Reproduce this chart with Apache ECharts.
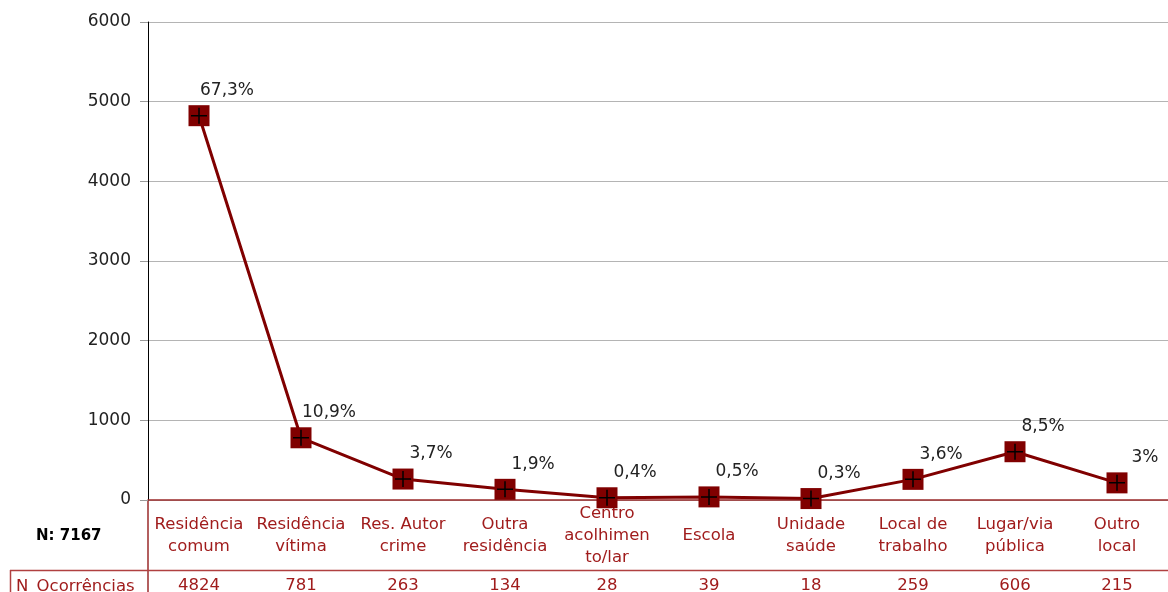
<!DOCTYPE html>
<html>
<head>
<meta charset="utf-8">
<script src="https://cdn.jsdelivr.net/npm/echarts@6/dist/echarts.min.js"></script>
<style>
html,body{margin:0;padding:0;background:#fff;}
#c{width:1168px;height:592px;}
</style>
</head>
<body>
<div id="c"></div>
<script>
const categories = ["Residência\ncomum", "Residência\nvítima", "Res. Autor\ncrime", "Outra\nresidência", "Centro\nacolhimen\nto/lar", "Escola", "Unidade\nsaúde", "Local de\ntrabalho", "Lugar/via\npública", "Outro\nlocal"];
const counts = [4824, 781, 263, 134, 28, 39, 18, 259, 606, 215];
const percents = ["67,3%", "10,9%", "3,7%", "1,9%", "0,4%", "0,5%", "0,3%", "3,6%", "8,5%", "3%"];
const yTicks = [0, 1000, 2000, 3000, 4000, 5000, 6000];
const totalLabel = "N: 7167";
const rowLabel = "N_Ocorrências";

const RED = '#800000';
const TXT_RED = '#a01c1c';
const FONT = 'DejaVu Sans';

const chart = echarts.init(document.getElementById('c'));
chart.setOption({
  animation: false,
  grid: { left: 148, right: 0, top: 22, bottom: 92, containLabel: false, outerBoundsMode: 'none' },
  xAxis: [{
    type: 'category',
    data: categories,
    boundaryGap: true,
    axisLine: { show: true, lineStyle: { color: '#9a2a2a', width: 1.5 } },
    axisTick: { show: false },
    axisLabel: {
      interval: 0, color: TXT_RED, fontFamily: FONT, fontSize: 16.5,
      lineHeight: 22, verticalAlign: 'middle', margin: 36
    }
  }, {
    type: 'category',
    position: 'bottom',
    data: counts.map(String),
    boundaryGap: true,
    axisLine: { show: false },
    axisTick: { show: false },
    axisLabel: {
      interval: 0, color: TXT_RED, fontFamily: FONT, fontSize: 16.5,
      verticalAlign: 'middle', margin: 86
    }
  }],
  yAxis: {
    type: 'value',
    min: yTicks[0], max: yTicks[yTicks.length - 1], interval: 1000,
    axisLine: { show: true, lineStyle: { color: '#000', width: 1 } },
    axisTick: { show: true, length: 8, lineStyle: { color: '#999' } },
    splitLine: { show: true, lineStyle: { color: '#b4b4b4', width: 1 } },
    axisLabel: { color: '#222', fontFamily: FONT, fontSize: 17, margin: 17, formatter: v => String(v) }
  },
  series: [{
    type: 'line',
    data: counts,
    xAxisIndex: 0,
    lineStyle: { color: RED, width: 3 },
    itemStyle: { color: RED, borderWidth: 0 },
    symbol: 'rect',
    symbolSize: 21,
    z: 3,
    label: {
      show: true,
      position: 'top',
      offset: [28, -1],
      formatter: p => percents[p.dataIndex],
      color: '#222', fontFamily: FONT, fontSize: 17
    }
  }, {
    type: 'line',
    data: counts,
    xAxisIndex: 0,
    lineStyle: { width: 0, opacity: 0 },
    symbol: 'path://M0,7.25H16V8.75H0Z M7.25,0H8.75V16H7.25Z',
    symbolSize: 16,
    itemStyle: { color: '#000' },
    z: 4,
    silent: true
  }],
  graphic: [
    { type: 'line', shape: { x1: 148, y1: 500, x2: 148, y2: 592 }, style: { stroke: '#9a2a2a', lineWidth: 1.5 } },
    { type: 'line', shape: { x1: 10, y1: 570.5, x2: 1168, y2: 570.5 }, style: { stroke: '#b04040', lineWidth: 1.5 } },
    { type: 'line', shape: { x1: 10.5, y1: 570, x2: 10.5, y2: 592 }, style: { stroke: '#b04040', lineWidth: 1.5 } },
    { type: 'text', left: 36, top: 529, style: { text: totalLabel, fill: '#000', font: 'bold 15px "DejaVu Sans"' } },
    { type: 'text', left: 16, top: 578, style: { text: rowLabel, fill: TXT_RED, font: '16.5px "DejaVu Sans"' } }
  ]
});
</script>
</body>
</html>
